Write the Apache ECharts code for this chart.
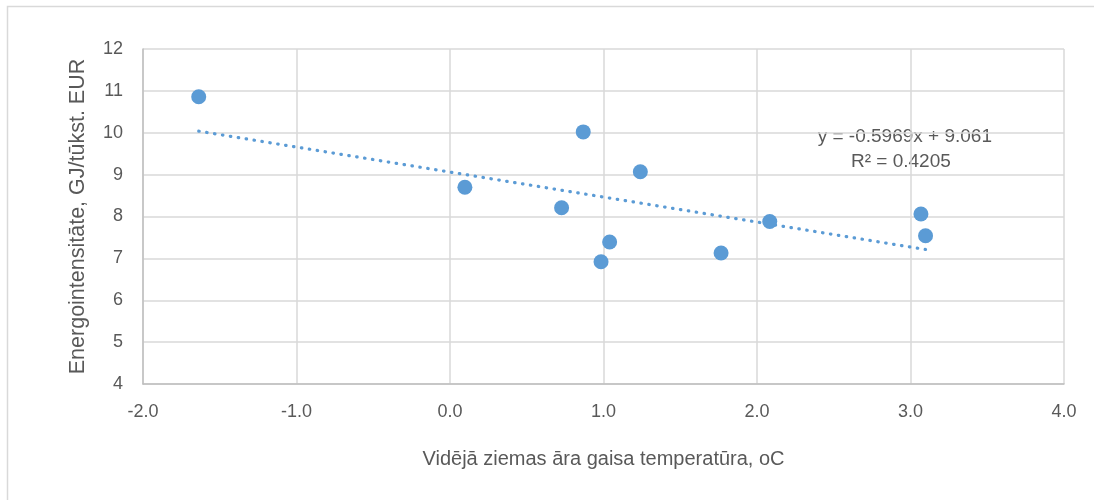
<!DOCTYPE html>
<html>
<head>
<meta charset="utf-8">
<script src="https://cdn.jsdelivr.net/npm/echarts@6/dist/echarts.min.js"></script>
<style>
html,body{margin:0;padding:0;background:#fff;}
#chart{width:1094px;height:500px;}
</style>
</head>
<body>
<div id="chart"></div>
<script>
// Data
const temperatures = [-1.637, 0.097, 0.727, 0.868, 1.040, 0.984, 1.240, 1.766, 2.083, 3.068, 3.098];
const intensities  = [10.86, 8.70, 8.21, 10.02, 7.39, 6.92, 9.07, 7.13, 7.88, 8.06, 7.54];
const xTicks = [-2.0, -1.0, 0.0, 1.0, 2.0, 3.0, 4.0];
const yTicks = [4, 5, 6, 7, 8, 9, 10, 11, 12];
const trendSlope = -0.5969;
const trendIntercept = 9.061;
const trendLabel = ['y = -0.5969x + 9.061', 'R² = 0.4205'];
const xTitle = 'Vidējā ziemas āra gaisa temperatūra, oC';
const yTitle = 'Energointensitāte, GJ/tūkst. EUR';

const points = temperatures.map((t, i) => [t, intensities[i]]);
const xMin = Math.min(...temperatures), xMax = Math.max(...temperatures);
const trend = [[xMin, trendIntercept + trendSlope * xMin], [xMax, trendIntercept + trendSlope * xMax]];

const FONT = "'Liberation Sans', Arial, sans-serif";
const chart = echarts.init(document.getElementById('chart'), null, {renderer: 'canvas'});
chart.setOption({
  animation: false,
  backgroundColor: '#ffffff',
  grid: {left: 143, right: 30, top: 49, bottom: 116},
  xAxis: {
    type: 'value', min: xTicks[0], max: xTicks[xTicks.length - 1], interval: 1,
    name: xTitle, nameLocation: 'middle', nameGap: 65,
    nameTextStyle: {fontFamily: FONT, fontSize: 20, color: '#595959'},
    axisLine: {show: true, onZero: false, lineStyle: {color: '#bfbfbf', width: 1.5}},
    axisTick: {show: false},
    axisLabel: {fontFamily: FONT, fontSize: 18, color: '#595959', margin: 19, formatter: v => v.toFixed(1)},
    splitLine: {show: true, lineStyle: {color: '#d9d9d9', width: 1.5}}
  },
  yAxis: {
    type: 'value', min: yTicks[0], max: yTicks[yTicks.length - 1], interval: 1,
    name: yTitle, nameLocation: 'middle', nameGap: 54,
    nameTextStyle: {fontFamily: FONT, fontSize: 21.5, color: '#595959'},
    axisLine: {show: true, onZero: false, lineStyle: {color: '#bfbfbf', width: 1.5}},
    axisTick: {show: false},
    axisLabel: {fontFamily: FONT, fontSize: 18, color: '#595959', margin: 20},
    splitLine: {show: true, lineStyle: {color: '#d9d9d9', width: 1.5}}
  },
  series: [
    {
      type: 'line', data: trend, symbol: 'none', silent: true, z: 2,
      lineStyle: {color: '#5b9bd5', width: 3.2, type: [0.5, 7.5], cap: 'round'}
    },
    {
      type: 'scatter', data: points, symbol: 'circle', symbolSize: 15, z: 3,
      itemStyle: {color: '#5b9bd5', borderColor: '#5b9bd5', borderWidth: 0, opacity: 1}
    }
  ],
  graphic: [
    {type: 'rect', shape: {x: 7.5, y: 6.5, width: 1100, height: 510}, style: {fill: null, stroke: '#d9d9d9', lineWidth: 1.5}, silent: true},
    {type: 'text', right: 102, top: 127, style: {text: trendLabel[0], font: '19px ' + FONT, fill: '#595959', textAlign: 'right'}},
    {type: 'text', left: 851, top: 152, style: {text: trendLabel[1], font: '19px ' + FONT, fill: '#595959'}}
  ]
});
</script>
</body>
</html>
